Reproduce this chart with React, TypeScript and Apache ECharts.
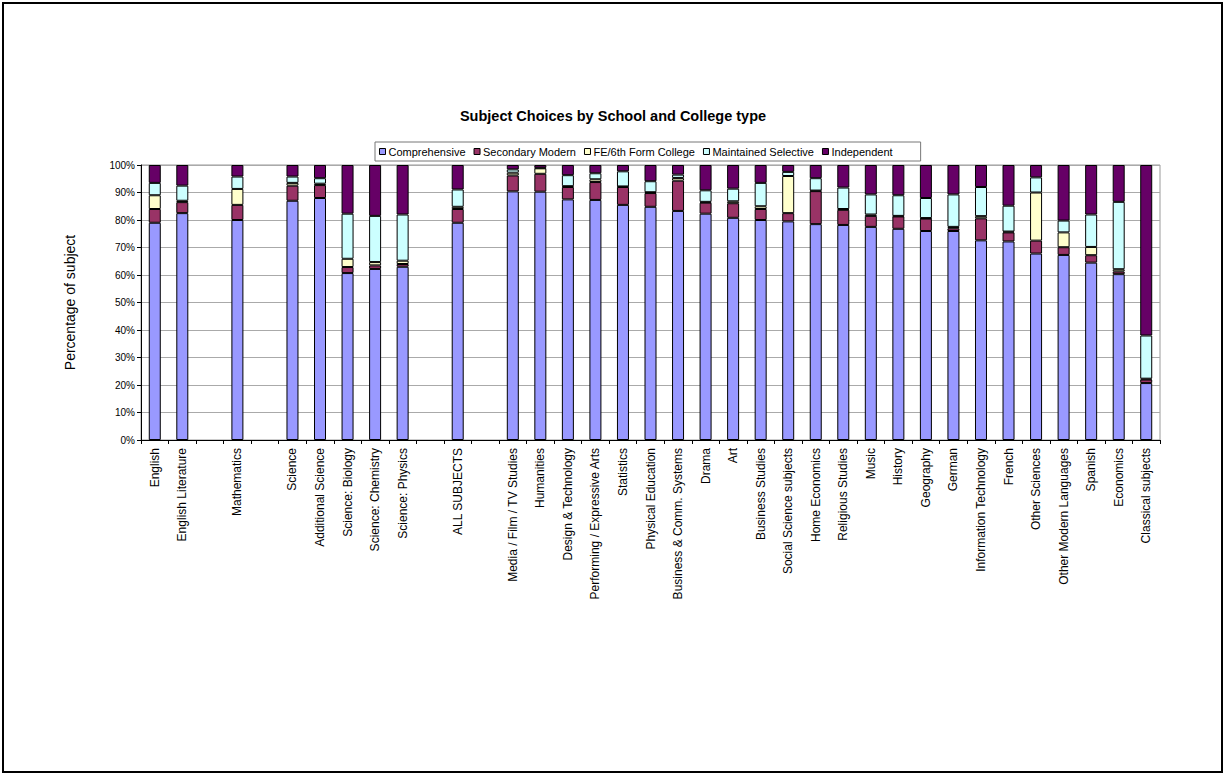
import React, { useEffect, useRef } from "react";
import * as echarts from "echarts";

const categories = [
  "English", "English Literature", "", "Mathematics", "", "Science", "Additional Science",
  "Science: Biology", "Science: Chemistry", "Science: Physics", "", "ALL SUBJECTS", "",
  "Media / Film / TV Studies", "Humanities", "Design & Technology", "Performing / Expressive Arts",
  "Statistics", "Physical Education", "Business & Comm. Systems", "Drama", "Art",
  "Business Studies", "Social Science subjects", "Home Economics", "Religious Studies",
  "Music", "History", "Geography", "German", "Information Technology", "French",
  "Other Sciences", "Other Modern Languages", "Spanish", "Economics", "Classical subjects",
];

const comprehensive = [
  79, 82.5, null, 80, null, 87, 88, 60.7, 62.2, 63, null, 79, null,
  90.4, 90.3, 87.5, 87.3, 85.5, 84.8, 83.3, 82.3, 80.8, 80, 79.5, 78.5, 78.2,
  77.5, 76.8, 76, 76, 72.6, 72.2, 67.8, 67.3, 64.5, 60.3, 20.7,
];
const secondaryModern = [
  5, 4, null, 5.5, null, 5.5, 4.7, 2.2, 1.3, 1, null, 5, null,
  5.8, 6.5, 4.5, 6.5, 6.5, 5, 11, 4, 5.3, 4, 3, 12, 5.5,
  4, 4.5, 4.5, 1, 8, 3.3, 4.7, 2.8, 2.7, 1, 1.3,
];
const feSixthForm = [
  5, 0.5, null, 5.8, null, 1, 0.5, 3, 1.2, 1.2, null, 0.8, null,
  1, 2, 0.3, 1, 0.2, 0.3, 1, 0.3, 0.7, 1, 13.5, 0.2, 0.3,
  0.5, 0.2, 0.2, 0.5, 0.8, 0.3, 17.5, 5.4, 3, 0.8, 0.3,
];
const maintainedSelective = [
  4.5, 5.5, null, 4.5, null, 2.3, 2, 16.4, 16.8, 16.8, null, 6.3, null,
  1.2, 0.2, 4, 2.2, 5.5, 4, 1.2, 4.2, 4.6, 8.5, 1.5, 4.5, 7.8,
  7.3, 7.5, 7.3, 11.8, 10.6, 9.4, 5.5, 4.3, 11.8, 24.5, 15.7,
];
const independent = [
  6.5, 7.5, null, 4.2, null, 4.2, 4.8, 17.7, 18.5, 18, null, 8.9, null,
  1.6, 1, 3.7, 3, 2.3, 5.9, 3.5, 9.2, 8.6, 6.5, 2.5, 4.8, 8.2,
  10.7, 11, 12, 10.7, 8, 14.8, 4.5, 20.2, 18, 13.4, 62,
];

const seriesNames = [
  "Comprehensive", "Secondary Modern", "FE/6th Form College", "Maintained Selective", "Independent",
];
const seriesColors = ["#9999FF", "#993366", "#FFFFCC", "#CCFFFF", "#660066"];
const seriesData = [comprehensive, secondaryModern, feSixthForm, maintainedSelective, independent];

const FONT = "'Liberation Sans', Arial, sans-serif";

export default function App() {
  const ref = useRef<HTMLDivElement>(null);
  useEffect(() => {
    if (!ref.current) return;
    const chart = echarts.init(ref.current, undefined, { renderer: "svg" });
    chart.setOption({
      animation: false,
      backgroundColor: "#ffffff",
      textStyle: { fontFamily: FONT },
      title: {
        text: "Subject Choices by School and College type",
        left: "center",
        top: 103,
        textStyle: { fontFamily: FONT, fontSize: 14.5, fontWeight: "bold", color: "#000" },
      },
      legend: {
        data: seriesNames,
        top: 142,
        left: 375,
        width: 600,
        icon: "rect",
        itemWidth: 6,
        itemHeight: 6,
        itemGap: 8,
        padding: [4, 28, 4, 4],
        borderColor: "#777",
        borderWidth: 1,
        textStyle: { fontFamily: FONT, fontSize: 11, color: "#000", padding: [0, 0, 0, -2] },
        itemStyle: { borderColor: "#000", borderWidth: 1 },
      },
      grid: {
        left: 141,
        top: 165,
        width: 1019,
        height: 275,
        show: true,
        borderColor: "#999",
        borderWidth: 1,
      },
      graphic: [
        {
          type: "rect",
          shape: { x: 3, y: 3, width: 1219, height: 769 },
          style: { fill: "none", stroke: "#000", lineWidth: 2 },
          silent: true,
        },
      ],
      xAxis: {
        type: "category",
        data: categories,
        axisLine: { lineStyle: { color: "#000", width: 1 } },
        axisTick: { show: true, alignWithLabel: false, length: 4, lineStyle: { color: "#000" } },
        axisLabel: {
          interval: 0,
          rotate: 90,
          fontFamily: FONT,
          fontSize: 12,
          color: "#000",
          margin: 8,
        },
      },
      yAxis: {
        type: "value",
        min: 0,
        max: 100,
        interval: 10,
        name: "Percentage of subject",
        nameLocation: "middle",
        nameGap: 64,
        nameTextStyle: { fontFamily: FONT, fontSize: 14, color: "#000" },
        axisLine: { show: true, lineStyle: { color: "#000", width: 1 } },
        axisTick: { show: true, length: 4, lineStyle: { color: "#000" } },
        axisLabel: { formatter: "{value}%", fontFamily: FONT, fontSize: 10, color: "#000", margin: 6 },
        splitLine: { show: true, lineStyle: { color: "#aaa", width: 1 } },
      },
      series: seriesNames.map((name, i) => ({
        name,
        type: "bar",
        stack: "total",
        barWidth: 12,
        data: seriesData[i],
        itemStyle: { color: seriesColors[i], borderColor: "#000", borderWidth: 1 },
      })),
    });
    return () => chart.dispose();
  }, []);
  return (
    <div
      ref={ref}
      style={{ position: "fixed", left: 0, top: 0, width: 1226, height: 776 }}
    />
  );
}
